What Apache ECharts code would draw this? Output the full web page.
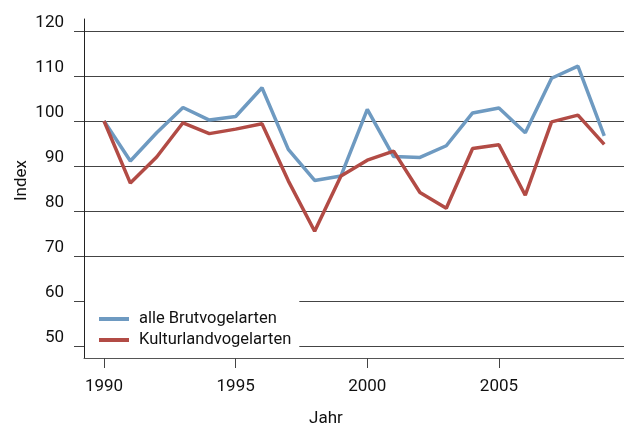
<!DOCTYPE html>
<html>
<head>
<meta charset="utf-8">
<script src="https://cdn.jsdelivr.net/npm/echarts@6/dist/echarts.min.js"></script>
<style>
  html, body { margin: 0; padding: 0; background: #fff; }
  #main { width: 624px; height: 426px; }
</style>
</head>
<body>
<div id="main"></div>
<script>
var years = [1990, 1991, 1992, 1993, 1994, 1995, 1996, 1997, 1998, 1999,
    2000, 2001, 2002, 2003, 2004, 2005, 2006, 2007, 2008, 2009];
var alleBrutvogelarten = [100, 91.1, 97.4, 103.0, 100.2, 101.0, 107.4, 93.7, 86.8, 87.8,
    102.6, 92.1, 91.9, 94.5, 101.8, 102.9, 97.4, 109.5, 112.2, 96.7];
var kulturlandvogelarten = [100, 86.2, 92.0, 99.6, 97.2, 98.2, 99.4, 86.7, 75.5, 87.8,
    91.3, 93.3, 84.1, 80.6, 93.9, 94.7, 83.5, 99.8, 101.3, 94.8];
var xTicks = [1990, 1995, 2000, 2005];
var yTicks = [50, 60, 70, 80, 90, 100, 110, 120];

var font = 'Roboto, "Noto Sans", sans-serif';

var chartDom = document.getElementById('main');
var myChart = echarts.init(chartDom);

function pairs(values) {
    return years.map(function (y, i) { return [y, values[i]]; });
}

var option = {
    animation: false,
    grid: { left: 84, right: 0, top: 19, bottom: 68, outerBoundsMode: 'none', containLabel: false },
    legend: {
        orient: 'vertical',
        left: 85,
        top: 294,
        backgroundColor: '#fff',
        padding: [16, 8, 6, 14],
        itemWidth: 30,
        itemHeight: 4,
        itemGap: 3,
        icon: 'rect',
        textStyle: { fontFamily: font, fontSize: 16.5, color: '#111', lineHeight: 18, padding: [0, 0, 0, 5] },
        data: ['alle Brutvogelarten', 'Kulturlandvogelarten']
    },
    xAxis: {
        type: 'value',
        min: 1989.24,
        max: 2009.75,
        name: 'Jahr',
        nameLocation: 'middle',
        nameGap: 52,
        nameMoveOverlap: false,
        nameTextStyle: { fontFamily: font, fontSize: 17, color: '#111', padding: [0, 56, 0, 0] },
        axisLine: { show: true, lineStyle: { color: '#555', width: 1 } },
        axisTick: { show: true, length: 10, customValues: xTicks, lineStyle: { color: '#444' } },
        axisLabel: { customValues: xTicks, fontFamily: font, fontSize: 17, color: '#111', margin: 20,
            formatter: function (v) { return String(v); } },
        splitLine: { show: false }
    },
    yAxis: {
        type: 'value',
        min: 47.33,
        max: 122.67,
        name: 'Index',
        nameLocation: 'middle',
        nameGap: 54,
        nameMoveOverlap: false,
        nameTextStyle: { fontFamily: font, fontSize: 17, color: '#111', padding: [0, 0, 0, 16] },
        axisLine: { show: true, lineStyle: { color: '#222', width: 1 } },
        axisTick: { show: true, length: 10, customValues: yTicks, lineStyle: { color: '#444' } },
        axisLabel: { customValues: yTicks, fontFamily: font, fontSize: 17, color: '#111',
            margin: 20, verticalAlign: 'bottom' },
        splitLine: { show: true, lineStyle: { color: '#444', width: 1 } }
    },
    series: [
        {
            name: 'alle Brutvogelarten',
            type: 'line',
            data: pairs(alleBrutvogelarten),
            showSymbol: false,
            symbol: 'none',
            color: '#6e9ac1',
            lineStyle: { width: 3.5 }
        },
        {
            name: 'Kulturlandvogelarten',
            type: 'line',
            data: pairs(kulturlandvogelarten),
            showSymbol: false,
            symbol: 'none',
            color: '#b24b45',
            lineStyle: { width: 3.5 }
        }
    ]
};

option && myChart.setOption(option);
</script>
</body>
</html>
